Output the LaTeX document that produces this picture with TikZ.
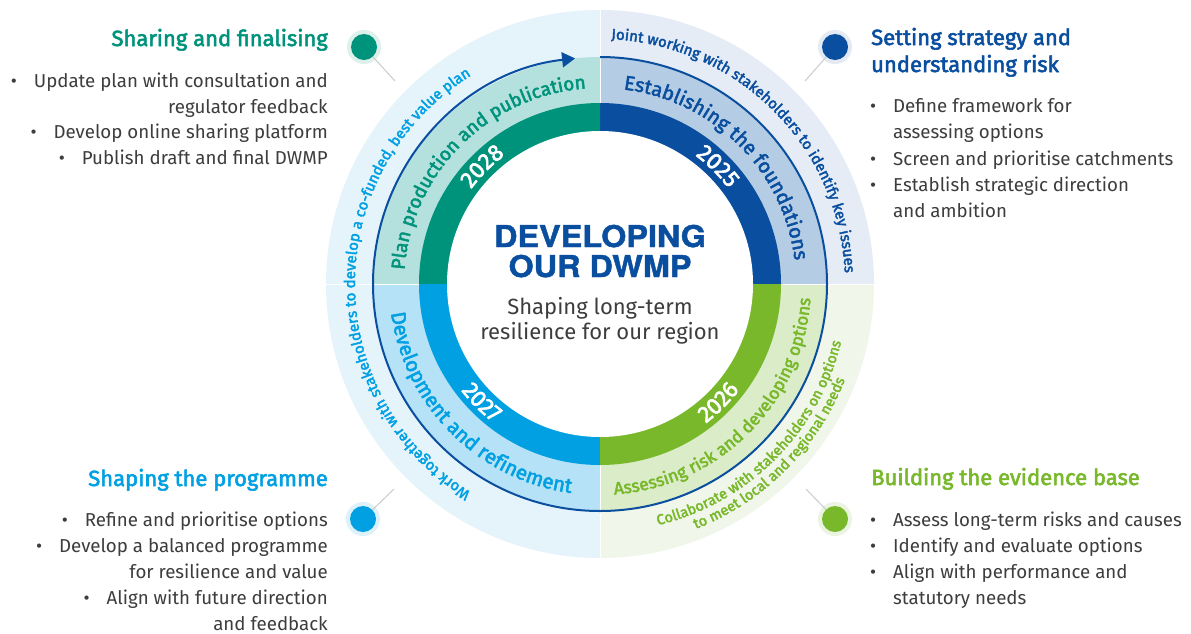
\documentclass[tikz,border=0pt]{standalone}
\usepackage{fontspec}
\usepackage{graphicx}
\setmainfont{Fira Sans}[AutoFakeBold=2.5]
\newfontfamily\heavyfont{texgyreheros-bold.otf}[RawFeature={embolden=1.5}, FakeStretch=1.08]
\usetikzlibrary{arrows.meta,decorations.text,calc}

% strong phase colours
\definecolor{cTeal}{HTML}{00937B}
\definecolor{cNavy}{HTML}{0A4F9F}
\definecolor{cGreen}{HTML}{78B82A}
\definecolor{cSky}{HTML}{00A0E3}
% middle band tints
\definecolor{mTeal}{HTML}{B4E0DE}
\definecolor{mNavy}{HTML}{B5CDE4}
\definecolor{mGreen}{HTML}{DAECC8}
\definecolor{mSky}{HTML}{B5E2F6}
% outer band tints
\definecolor{oTL}{HTML}{E5F3FB}
\definecolor{oTR}{HTML}{E6ECF5}
\definecolor{oBR}{HTML}{F0F6E9}
\definecolor{oBL}{HTML}{E5F3FB}
% pin halos
\definecolor{hTeal}{HTML}{DDF0EC}
\definecolor{hNavy}{HTML}{E3EAF4}
\definecolor{hGreen}{HTML}{EAF4E0}
\definecolor{hSky}{HTML}{DDF1FB}
\definecolor{cText}{HTML}{3D3D3D}
\definecolor{cPin}{HTML}{CCCCCC}

\newcommand{\bul}{\makebox[0pt][c]{\textbullet}\hspace{20pt}}
\newcommand{\arcfont}[1]{\bfseries\fontsize{#1}{#1}\selectfont}

\begin{document}
\begin{tikzpicture}[x=1pt,y=1pt,
  body/.style={font=\fontsize{18.7}{26}\selectfont, text=cText, inner sep=0pt},
  bodyR/.style={body, anchor=base east},
  bodyL/.style={body, anchor=base west},
  head/.style={font=\bfseries\fontsize{22}{26}\selectfont, inner sep=0pt},
  headR/.style={head, anchor=base east},
  headL/.style={head, anchor=base west},
  halo/.style={circle, inner sep=0pt, minimum size=34pt},
  dot/.style={circle, inner sep=0pt, minimum size=26pt},
  pinline/.style={draw=cPin, line width=1pt},
  sep/.style={draw=white, line width=1pt},
  ringline/.style={draw=cNavy, line width=2pt},
]
\useasboundingbox (0,0) rectangle (1191,-633);
\fill[white] (0,0) rectangle (1191,-633);

\coordinate (c) at (600,-284);

% outer band quadrants
\fill[oTR] (c) -- ($(c)+(90:274pt)$) arc[start angle=90, end angle=0, radius=274pt] -- cycle;
\fill[oTL] (c) -- ($(c)+(90:274pt)$) arc[start angle=90, end angle=180, radius=274pt] -- cycle;
\fill[oBL] (c) -- ($(c)+(180:274pt)$) arc[start angle=180, end angle=270, radius=274pt] -- cycle;
\fill[oBR] (c) -- ($(c)+(270:274pt)$) arc[start angle=270, end angle=360, radius=274pt] -- cycle;

% middle band quadrants
\fill[mNavy] (c) -- ($(c)+(90:227pt)$) arc[start angle=90, end angle=0, radius=227pt] -- cycle;
\fill[mTeal] (c) -- ($(c)+(90:227pt)$) arc[start angle=90, end angle=180, radius=227pt] -- cycle;
\fill[mSky] (c) -- ($(c)+(180:227pt)$) arc[start angle=180, end angle=270, radius=227pt] -- cycle;
\fill[mGreen] (c) -- ($(c)+(270:227pt)$) arc[start angle=270, end angle=360, radius=227pt] -- cycle;

% quadrant separators in the pale bands
\foreach \a in {0,90,180,270}
  \draw[sep] ($(c)+(\a:181pt)$) -- ($(c)+(\a:274pt)$);

% inner ring quadrants
\fill[cNavy] (c) -- ($(c)+(90:181pt)$) arc[start angle=90, end angle=0, radius=181pt] -- cycle;
\fill[cTeal] (c) -- ($(c)+(90:181pt)$) arc[start angle=90, end angle=180, radius=181pt] -- cycle;
\fill[cSky] (c) -- ($(c)+(180:181pt)$) arc[start angle=180, end angle=270, radius=181pt] -- cycle;
\fill[cGreen] (c) -- ($(c)+(270:181pt)$) arc[start angle=270, end angle=360, radius=181pt] -- cycle;

% white centre
\fill[white] (c) circle[radius=153pt];

% cycle line with arrow
\draw[ringline, -{Triangle[length=13pt, width=15pt]}] ($(c)+(90:227pt)$) arc[start angle=90, end angle=-263.7, radius=227pt];

% years on the inner ring
\path[decorate, decoration={text along path, text align=center, text={|\arcfont{23}\color{white}|2028}}]
  ($(c)+(225:160pt)$) arc[start angle=225, end angle=45, radius=160pt];
\path[decorate, decoration={text along path, text align=center, text={|\arcfont{23}\color{white}|2025}}]
  ($(c)+(135:160pt)$) arc[start angle=135, end angle=-45, radius=160pt];
\path[decorate, decoration={text along path, text align=center, text={|\arcfont{23}\color{white}|2026}}]
  ($(c)+(-135:175pt)$) arc[start angle=-135, end angle=45, radius=175pt];
\path[decorate, decoration={text along path, text align=center, text={|\arcfont{23}\color{white}|2027}}]
  ($(c)+(135:175pt)$) arc[start angle=135, end angle=315, radius=175pt];

% phase names in the middle band
\path[decorate, decoration={text along path, text align=center, text={|\arcfont{19}\color{cTeal}|Plan production and publication}}]
  ($(c)+(225:196pt)$) arc[start angle=225, end angle=45, radius=196pt];
\path[decorate, decoration={text along path, text align=center, text={|\arcfont{20}\color{cNavy}|Establishing the foundations}}]
  ($(c)+(135:196pt)$) arc[start angle=135, end angle=-45, radius=196pt];
\path[decorate, decoration={text along path, text align=center, text={|\arcfont{17.5}\color{cGreen}|Assessing risk and developing options}}]
  ($(c)+(-135:211pt)$) arc[start angle=-135, end angle=45, radius=211pt];
\path[decorate, decoration={text along path, text align=center, text={|\arcfont{20.5}\color{cSky}|Development and refinement}}]
  ($(c)+(135:211pt)$) arc[start angle=135, end angle=315, radius=211pt];

% engagement notes in the outer band
\path[decorate, decoration={text along path, text align=center, text={|\arcfont{15}\color{cSky}|Work together with stakeholders to develop a co-funded, best value plan}}]
  ($(c)+(270:245pt)$) arc[start angle=270, end angle=90, radius=245pt];
\path[decorate, decoration={text along path, text align=center, text={|\arcfont{15}\color{cNavy}|Joint working with stakeholders to identify key issues}}]
  ($(c)+(135:245pt)$) arc[start angle=135, end angle=-45, radius=245pt];
\path[decorate, decoration={text along path, text align=center, text={|\arcfont{14.5}\color{cGreen}|Collaborate with stakeholders on options}}]
  ($(c)+(-135:248pt)$) arc[start angle=-135, end angle=45, radius=248pt];
\path[decorate, decoration={text along path, text align=center, text={|\arcfont{14.5}\color{cGreen}|to meet local and regional needs}}]
  ($(c)+(-135:263pt)$) arc[start angle=-135, end angle=45, radius=263pt];

% centre title
\node[font=\heavyfont\fontsize{30}{34}\selectfont, text=cNavy, inner sep=0pt, anchor=base] (t1) at (600,-247) {DEVELOPING};
\node[font=\heavyfont\fontsize{30}{34}\selectfont, text=cNavy, inner sep=0pt, anchor=base] (t2) at (600,-277) {OUR DWMP};
\node[font=\fontsize{22}{26}\selectfont, text=cText, inner sep=0pt, anchor=base] (t3) at (600,-314) {Shaping long-term};
\node[font=\fontsize{22}{26}\selectfont, text=cText, inner sep=0pt, anchor=base] (t4) at (600,-339) {resilience for our region};

% pins
\node[halo, fill=hTeal] (h1) at (364,-47) {};
\node[dot, fill=cTeal] (d1) at (364,-47) {};
\coordinate (e1) at (395,-81);
\draw[pinline] (d1) -- (e1);
\node[halo, fill=hNavy] (h2) at (835,-47) {};
\node[dot, fill=cNavy] (d2) at (835,-47) {};
\coordinate (e2) at (805,-81);
\draw[pinline] (d2) -- (e2);
\node[halo, fill=hSky] (h3) at (363,-519) {};
\node[dot, fill=cSky] (d3) at (363,-519) {};
\coordinate (e3) at (394,-489);
\draw[pinline] (d3) -- (e3);
\node[halo, fill=hGreen] (h4) at (835,-519) {};
\node[dot, fill=cGreen] (d4) at (835,-519) {};
\coordinate (e4) at (806,-489);
\draw[pinline] (d4) -- (e4);

% top left block
\node[headR, text=cTeal] (sfT) at (328,-46) {Sharing and finalising};
\node[bodyR] (sf1) at (328,-87) {\bul Update plan with consultation and};
\node[bodyR] (sf2) at (328,-113) {regulator feedback};
\node[bodyR] (sf3) at (328,-138) {\bul Develop online sharing platform};
\node[bodyR] (sf4) at (328,-164) {\bul Publish draft and final DWMP};

% top right block
\node[headL, text=cNavy] (ssT1) at (871,-45) {Setting strategy and};
\node[headL, text=cNavy] (ssT2) at (871,-72) {understanding risk};
\node[bodyL] (ss1) at (873,-112) {\bul Define framework for};
\node[bodyL] (ss2) at (893,-138) {assessing options};
\node[bodyL] (ss3) at (873,-165) {\bul Screen and prioritise catchments};
\node[bodyL] (ss4) at (873,-191) {\bul Establish strategic direction};
\node[bodyL] (ss5) at (893,-217) {and ambition};

% bottom left block
\node[headR, text=cSky] (spT) at (328,-486) {Shaping the programme};
\node[bodyR] (sp1) at (328,-526) {\bul Refine and prioritise options};
\node[bodyR] (sp2) at (328,-552) {\bul Develop a balanced programme};
\node[bodyR] (sp3) at (328,-578) {for resilience and value};
\node[bodyR] (sp4) at (328,-604) {\bul Align with future direction};
\node[bodyR] (sp5) at (328,-630) {and feedback};

% bottom right block
\node[headL, text=cGreen] (beT) at (871,-485) {Building the evidence base};
\node[bodyL] (be1) at (873,-526) {\bul Assess long-term risks and causes};
\node[bodyL] (be2) at (873,-552) {\bul Identify and evaluate options};
\node[bodyL] (be3) at (873,-578) {\bul Align with performance and};
\node[bodyL] (be4) at (893,-604) {statutory needs};
\end{tikzpicture}
\end{document}
